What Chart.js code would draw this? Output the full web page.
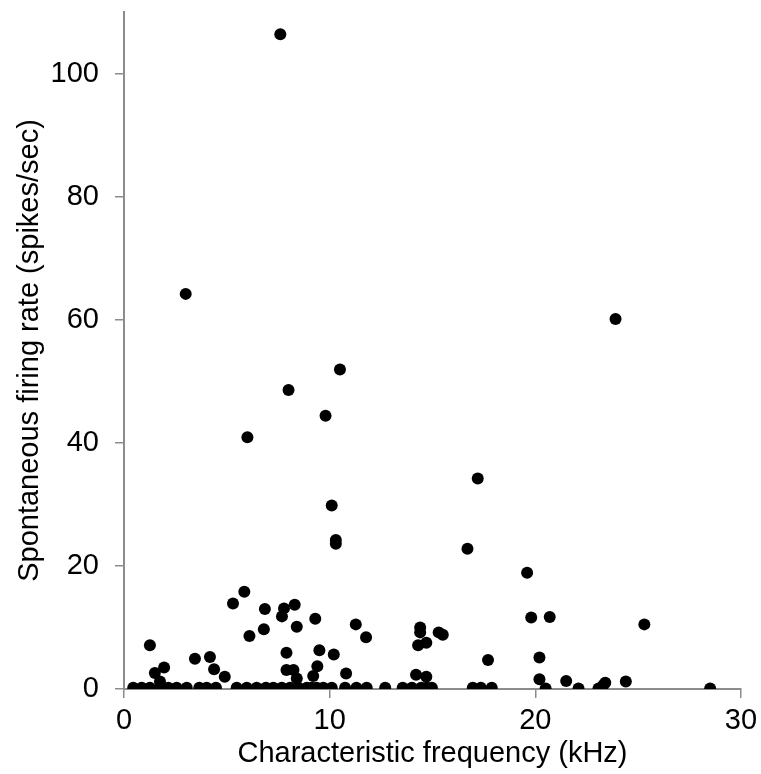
<!DOCTYPE html>
<html>
<head>
<meta charset="utf-8">
<script src="https://cdn.jsdelivr.net/npm/chart.js@4.4.1/dist/chart.umd.min.js"></script>
<style>
html,body{margin:0;padding:0;background:#fff;}
#wrap{position:relative;width:761px;height:774px;}
</style>
</head>
<body>
<div id="wrap"><canvas id="c" width="761" height="774"></canvas></div>
<script>
// Characteristic frequency (kHz)
const cfKHz = [
  7.6, 3.0, 23.9, 10.5, 8.0, 9.8, 6.0, 10.1, 10.3, 10.3, 17.2, 16.7, 19.6,
  1.26, 5.3, 5.85, 6.85, 6.1, 6.8, 1.5, 1.95, 1.75, 3.45, 4.18, 4.38, 4.9,
  7.78, 7.68, 8.3, 8.4, 9.3, 11.27, 11.77, 7.9, 9.5, 10.2, 7.9, 8.24, 8.4, 9.4, 9.2, 10.8,
  14.4, 14.4, 14.3, 14.7, 15.3, 15.5, 17.7, 14.2, 14.7,
  19.8, 20.7, 20.2, 20.2, 20.5, 21.5, 25.3, 22.1, 23.07, 23.3, 23.4, 24.4, 28.5,
  0.45, 0.86, 1.26, 1.75, 2.15, 2.56, 3.05, 3.66, 4.02, 4.47, 5.48, 5.97, 6.45, 6.9,
  7.26, 7.67, 8.07, 8.48, 8.89, 9.13, 9.37, 9.69, 10.1, 10.75, 11.3, 11.8, 12.7,
  13.55, 14.0, 14.45, 14.72, 14.97, 16.96, 17.35, 17.88
];
// Spontaneous firing rate (spikes/sec)
const rateSpikes = [
  106.4, 64.2, 60.1, 51.9, 48.6, 44.4, 40.9, 29.8, 24.2, 23.6, 34.2, 22.8, 18.9,
  7.1, 13.9, 15.8, 13.0, 8.6, 9.7, 2.6, 3.5, 1.2, 4.9, 5.2, 3.2, 2.0,
  13.1, 11.8, 13.7, 10.1, 11.4, 10.5, 8.4, 5.9, 6.3, 5.6, 3.1, 3.1, 1.7, 3.7, 2.1, 2.5,
  10.0, 9.2, 7.1, 7.5, 9.2, 8.8, 4.7, 2.3, 2.0,
  11.6, 11.7, 5.1, 1.6, 0.1, 1.3, 10.5, 0.1, 0.1, 0.6, 1.0, 1.2, 0.1,
  0.2, 0.2, 0.2, 0.2, 0.2, 0.2, 0.2, 0.2, 0.2, 0.2, 0.2, 0.2, 0.2, 0.2,
  0.2, 0.2, 0.2, 0.2, 0.2, 0.2, 0.2, 0.2, 0.2, 0.2, 0.2, 0.2, 0.2,
  0.2, 0.2, 0.2, 0.2, 0.2, 0.2, 0.2, 0.2
];
const xTickValues = [0, 10, 20, 30];
const yTickValues = [0, 20, 40, 60, 80, 100];
const xTitle = 'Characteristic frequency (kHz)';
const yTitle = 'Spontaneous firing rate (spikes/sec)';

const points = cfKHz.map((x, i) => ({x: x, y: rateSpikes[i]}));
const FONT = "'Liberation Sans', Arial, sans-serif";
const AXIS = '#8c8c8c';

function noPad(s) {
  s.paddingTop = 0; s.paddingBottom = 0; s.paddingLeft = 0; s.paddingRight = 0;
}

new Chart(document.getElementById('c'), {
  type: 'scatter',
  data: {
    datasets: [{
      data: points,
      backgroundColor: '#000',
      borderColor: '#000',
      borderWidth: 0,
      pointRadius: 6,
      pointHoverRadius: 6
    }]
  },
  options: {
    responsive: false,
    animation: false,
    events: [],
    layout: {padding: {top: 12, right: 20, left: 0, bottom: 0}},
    plugins: {legend: {display: false}, tooltip: {enabled: false}},
    scales: {
      x: {
        type: 'linear',
        min: 0, max: 30,
        afterBuildTicks: s => { s.ticks = xTickValues.map(v => ({value: v})); },
        afterFit: s => { s.height = 774 - 689; noPad(s); },
        ticks: {font: {family: FONT, size: 29}, color: '#000', padding: 6, maxRotation: 0},
        grid: {drawOnChartArea: false, drawTicks: true, tickLength: 9, color: AXIS, lineWidth: 1.5},
        border: {color: AXIS, width: 2},
        title: {display: true, text: xTitle, color: '#000', font: {family: FONT, size: 29}, padding: {top: 0, bottom: 3}}
      },
      y: {
        type: 'linear',
        min: 0, max: 110,
        afterBuildTicks: s => { s.ticks = yTickValues.map(v => ({value: v})); },
        afterFit: s => { s.width = 124; noPad(s); },
        ticks: {font: {family: FONT, size: 29}, color: '#000', padding: 16},
        grid: {drawOnChartArea: false, drawTicks: true, tickLength: 9, color: AXIS, lineWidth: 1.5},
        border: {color: AXIS, width: 2},
        title: {display: true, text: yTitle, color: '#000', font: {family: FONT, size: 29}, padding: {top: 13, bottom: 0}}
      }
    }
  }
});
</script>
</body>
</html>
